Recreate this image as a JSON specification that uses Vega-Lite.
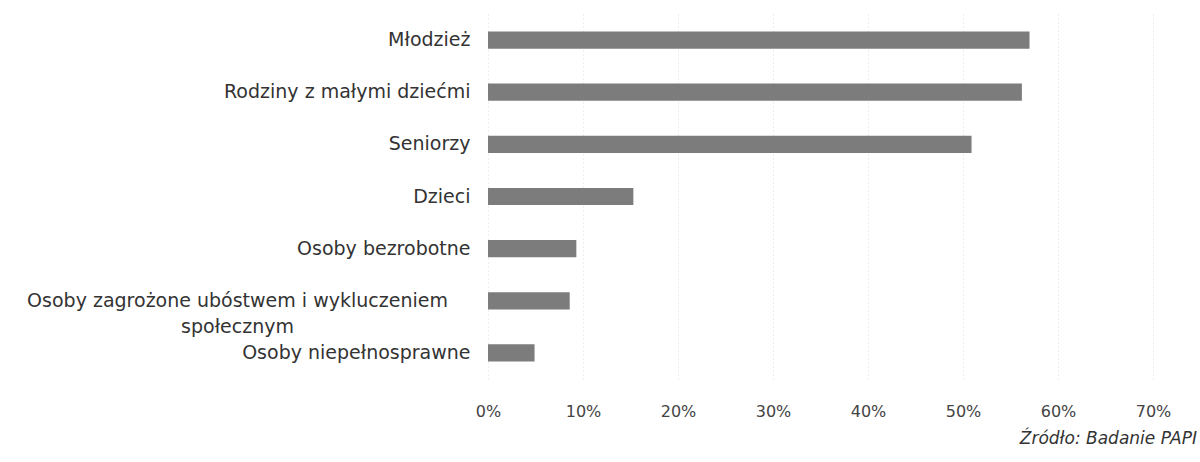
{
  "$schema": "https://vega.github.io/schema/vega-lite/v6.json",
  "autosize": {"type": "none"},
  "width": 665,
  "height": 365,
  "padding": {"left": 488, "top": 14, "right": 47, "bottom": 83},
  "background": "white",
  "config": {"view": {"stroke": null}},
  "title": {
    "text": "Źródło: Badanie PAPI",
    "orient": "bottom",
    "anchor": "end",
    "frame": "group",
    "dx": 44,
    "offset": 12,
    "font": "DejaVu Sans",
    "fontSize": 17,
    "fontStyle": "italic",
    "fontWeight": "normal",
    "color": "#333333"
  },
  "data": {
    "values": [
      {"grupa": "Młodzież", "udzial": 0.570},
      {"grupa": "Rodziny z małymi dziećmi", "udzial": 0.562},
      {"grupa": "Seniorzy", "udzial": 0.509},
      {"grupa": "Dzieci", "udzial": 0.153},
      {"grupa": "Osoby bezrobotne", "udzial": 0.093},
      {"grupa": "Osoby zagrożone ubóstwem i wykluczeniem społecznym", "udzial": 0.086},
      {"grupa": "Osoby niepełnosprawne", "udzial": 0.049}
    ]
  },
  "mark": {"type": "bar", "color": "#7c7c7c"},
  "encoding": {
    "y": {
      "field": "grupa",
      "type": "nominal",
      "sort": null,
      "scale": {"paddingInner": 0.67, "paddingOuter": 0.335},
      "axis": {
        "title": null,
        "domain": false,
        "ticks": false,
        "labelFont": "DejaVu Sans",
        "labelFontSize": 19,
        "labelColor": "#333333",
        "labelLimit": 600,
        "labelLineHeight": 26,
        "labelExpr": "datum.label == 'Osoby zagrożone ubóstwem i wykluczeniem społecznym' ? ['Osoby zagrożone ubóstwem i wykluczeniem', 'społecznym'] : datum.label",
        "labelAlign": {"condition": {"test": "datum.label == 'Osoby zagrożone ubóstwem i wykluczeniem społecznym'", "value": "center"}, "value": "right"},
        "labelPadding": {"condition": {"test": "datum.label == 'Osoby zagrożone ubóstwem i wykluczeniem społecznym'", "value": 251}, "value": 18}
      }
    },
    "x": {
      "field": "udzial",
      "type": "quantitative",
      "scale": {"domain": [0, 0.7], "nice": false},
      "axis": {
        "title": null,
        "format": ".0%",
        "values": [0, 0.1, 0.2, 0.3, 0.4, 0.5, 0.6, 0.7],
        "domain": false,
        "ticks": false,
        "labelFlush": false,
        "labelPadding": 24,
        "labelFont": "DejaVu Sans",
        "labelFontSize": 16,
        "labelColor": "#444444",
        "grid": true,
        "gridColor": "#dddddd",
        "gridDash": [1, 3],
        "gridWidth": 1
      }
    }
  }
}
